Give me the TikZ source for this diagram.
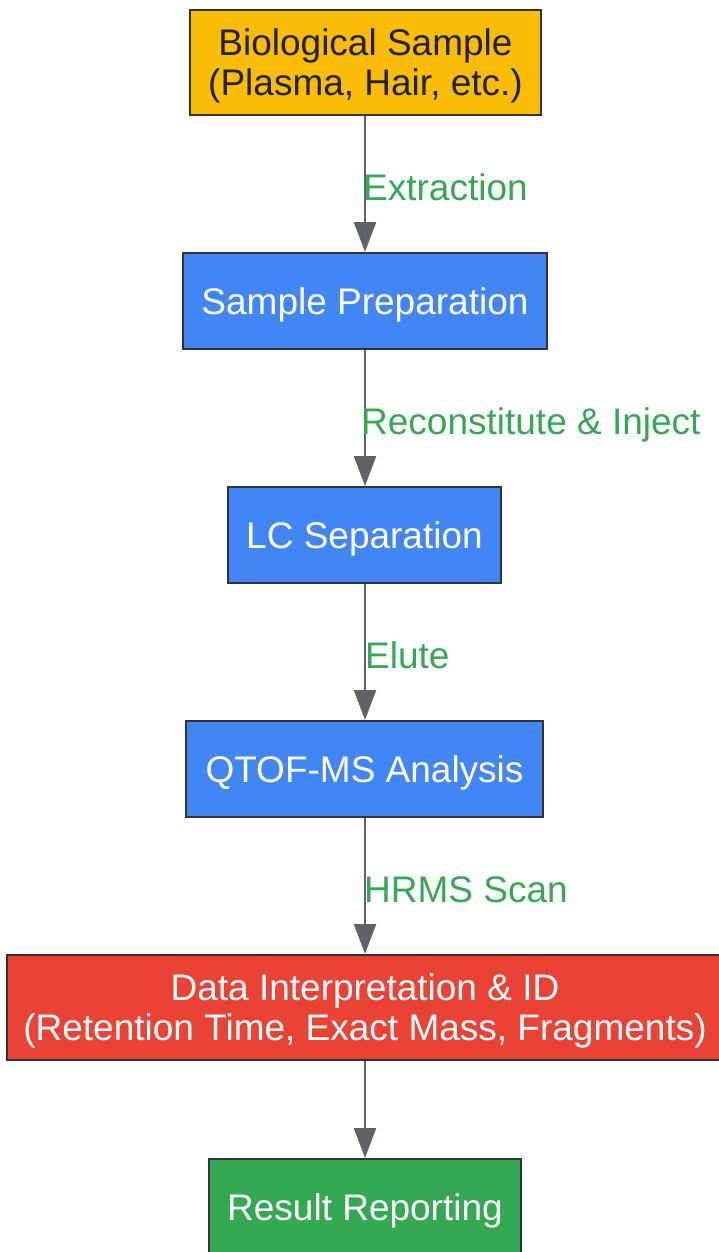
\documentclass[tikz,border=0pt]{standalone}
\usepackage{fontspec}
\setmainfont{Liberation Sans}
\usetikzlibrary{arrows.meta}
\definecolor{cyellow}{HTML}{FBBC05}
\definecolor{cblue}{HTML}{4285F4}
\definecolor{cred}{HTML}{EA4335}
\definecolor{cgreen}{HTML}{34A853}
\definecolor{cdark}{HTML}{202124}
\definecolor{cgray}{HTML}{5F6368}
\definecolor{cborder}{HTML}{333333}
\tikzset{
  box/.style={draw=cborder, line width=2pt, inner sep=0pt, align=center, text depth=0pt,
    font=\fontsize{37}{40}\selectfont, text=white},
  conn/.style={draw=cgray, line width=2.4pt, -{Triangle[length=30pt,width=22pt]}},
  elabel/.style={anchor=base west, inner sep=0pt, text=cgreen, font=\fontsize{37}{40}\selectfont}
}
\begin{document}
\begin{tikzpicture}[x=1pt,y=-1pt]
\useasboundingbox (0,0) rectangle (718,1252);
\node[box, fill=cyellow, text=cdark, minimum width=351pt, minimum height=105pt] (bio) at (365.5,62.5) {Biological Sample\\(Plasma, Hair, etc.)};
\node[box, fill=cblue, minimum width=364pt, minimum height=96pt] (prep) at (365,301) {Sample Preparation};
\node[box, fill=cblue, minimum width=273pt, minimum height=96pt] (lc) at (364.5,535) {LC Separation};
\node[box, fill=cblue, minimum width=357pt, minimum height=96pt] (ms) at (364.5,769) {QTOF-MS Analysis};
\node[box, fill=cred, minimum width=716pt, minimum height=105pt] (data) at (365,1007.5) {Data Interpretation \& ID\\(Retention Time, Exact Mass, Fragments)};
\node[box, fill=cgreen, minimum width=312pt, minimum height=96pt] (res) at (365,1207) {Result Reporting};
\coordinate (x0) at (365,0);
\draw[conn] (bio.south -| x0) -- (prep.north -| x0);
\draw[conn] (prep.south -| x0) -- (lc.north -| x0);
\draw[conn] (lc.south -| x0) -- (ms.north -| x0);
\draw[conn] (ms.south -| x0) -- (data.north -| x0);
\draw[conn] (data.south -| x0) -- (res.north -| x0);
\node[elabel] (l1) at (363,200.5) {Extraction};
\node[elabel] (l2) at (361,434.5) {Reconstitute \& Inject};
\node[elabel] (l3) at (365,668.5) {Elute};
\node[elabel] (l4) at (364,902.5) {HRMS Scan};
\end{tikzpicture}
\end{document}
